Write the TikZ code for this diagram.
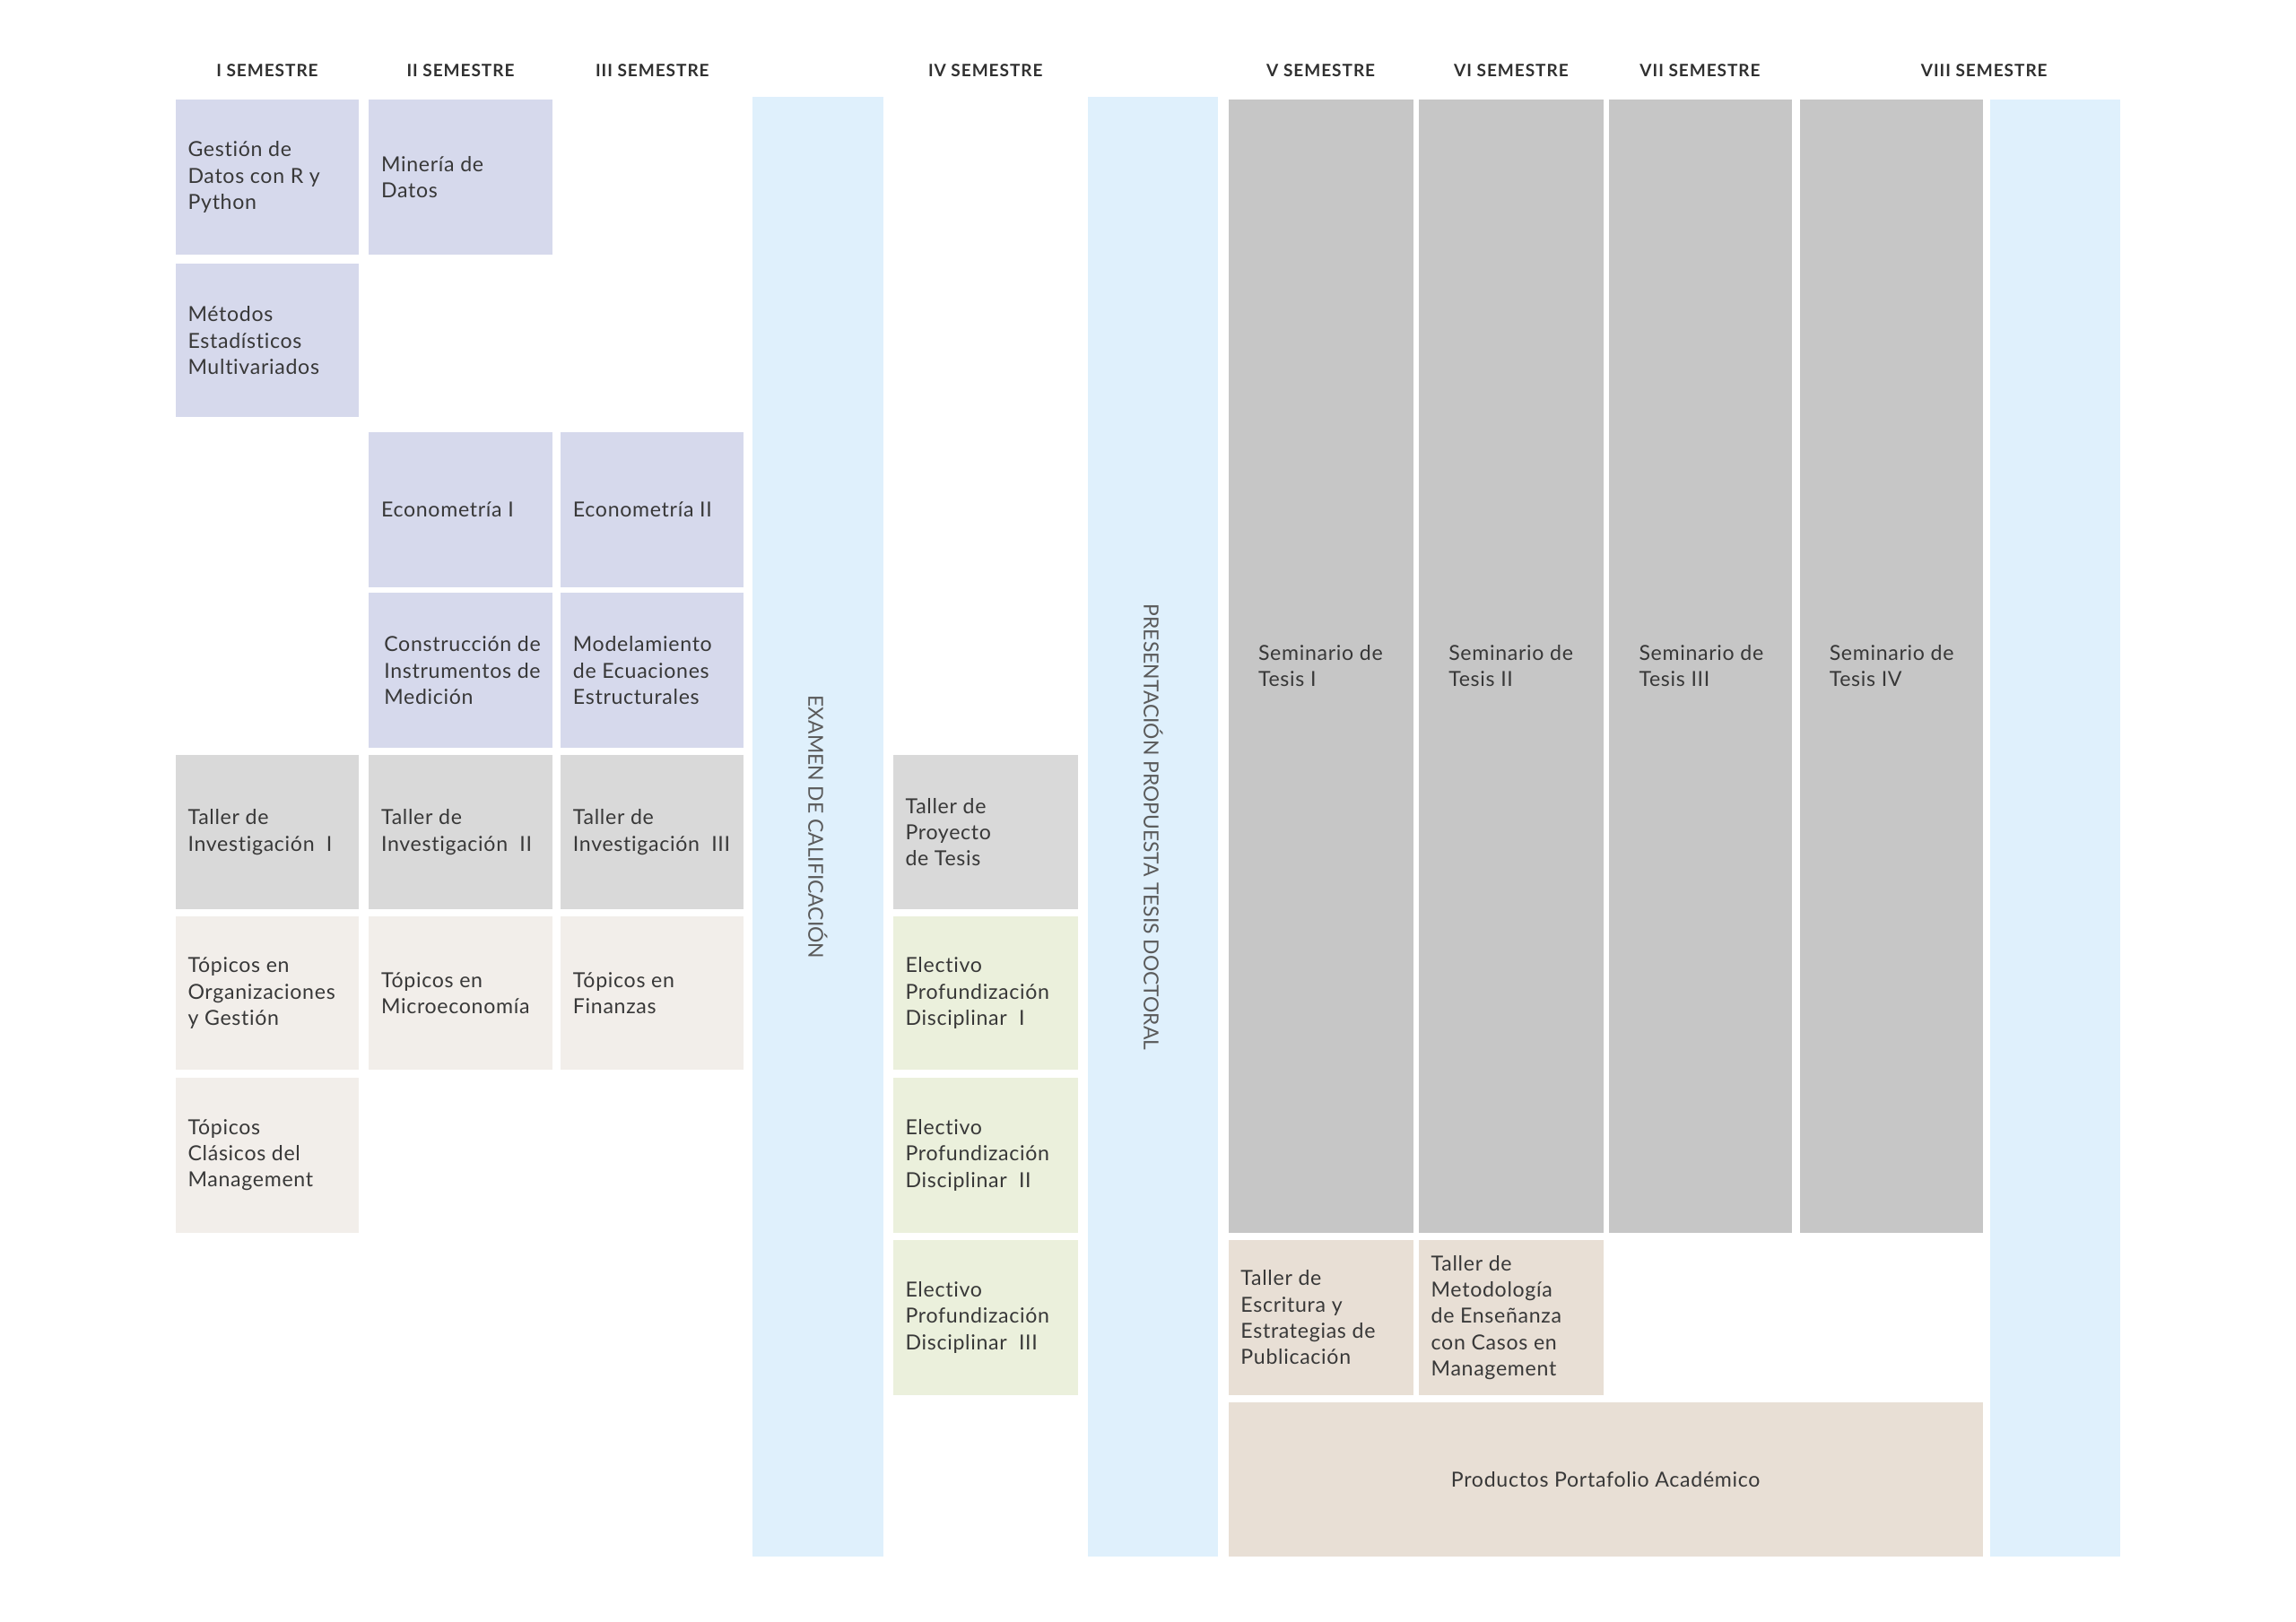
\documentclass[tikz,border=0pt]{standalone}
\usepackage{fontspec}
\setmainfont{Lato}
\newfontfamily\boxfont{Lato}[LetterSpace=3, Ligatures=NoCommon]
\newfontfamily\headfont{Lato}[LetterSpace=5]
\usepackage{xcolor}
\usetikzlibrary{positioning}

\definecolor{lavender}{HTML}{D6D9EC}
\definecolor{tallergray}{HTML}{D9D9D9}
\definecolor{topicbeige}{HTML}{F2EEEA}
\definecolor{electgreen}{HTML}{EBF0DC}
\definecolor{semgray}{HTML}{C6C6C6}
\definecolor{tanbox}{HTML}{E8DFD5}
\definecolor{bandblue}{HTML}{DFF0FC}
\definecolor{inkgray}{HTML}{383838}
\definecolor{headgray}{HTML}{303030}
\definecolor{bandink}{HTML}{5A5A5A}

\tikzset{
  coursetext/.style={anchor=west, inner sep=0pt, align=left, text=inkgray,
    font=\boxfont\fontsize{8.5}{10.8}\selectfont},
  semhead/.style={inner sep=0pt, text=headgray,
    font=\headfont\bfseries\fontsize{7}{8}\selectfont},
  bandtext/.style={rotate=-90, inner sep=0pt, text=bandink,
    font=\fontsize{8.4}{10}\selectfont}
}

\begin{document}
\begin{tikzpicture}[x=0.6pt, y=-0.6pt]

\useasboundingbox (0,0) rectangle (1568,1108);

% === HEADERS ===
\node[semhead] (hI) at (182.5,48) {I SEMESTRE};
\node[semhead] (hII) at (314.5,48) {II SEMESTRE};
\node[semhead] (hIII) at (445.5,48) {III SEMESTRE};
\node[semhead] (hIV) at (673,48) {IV SEMESTRE};
\node[semhead] (hV) at (902,48) {V SEMESTRE};
\node[semhead] (hVI) at (1032,48) {VI SEMESTRE};
\node[semhead] (hVII) at (1161,48) {VII SEMESTRE};
\node[semhead] (hVIII) at (1355,48) {VIII SEMESTRE};

% === BANDS ===
\fill[bandblue] (514,66) rectangle (603,1063);
\node[bandtext] (examen) at (558.5,565) {EXAMEN DE CALIFICACIÓN};
\fill[bandblue] (743,66) rectangle (832,1063);
\node[bandtext] (propuesta) at (787.5,565) {PRESENTACIÓN PROPUESTA TESIS DOCTORAL};
\fill[bandblue] (1359,68) rectangle (1448,1063);

% === I SEMESTRE ===
\fill[lavender] (120,68) rectangle ++(125,106);
\node[coursetext] (gestion) at (128,121) {Gestión de\\Datos con R y\\Python};
\fill[lavender] (120,180) rectangle ++(125,105);
\node[coursetext] (metodos) at (128,232.5) {Métodos\\Estadísticos\\Multivariados};
\fill[tallergray] (120,516) rectangle ++(125,105);
\node[coursetext] (tallerI) at (128,568.5) {Taller de\\Investigación~~I};
\fill[topicbeige] (120,626) rectangle ++(125,105);
\node[coursetext] (topOrg) at (128,678.5) {Tópicos en\\Organizaciones\\y Gestión};
\fill[topicbeige] (120,736) rectangle ++(125,106);
\node[coursetext] (topClasicos) at (128,789) {Tópicos\\Clásicos del\\Management};

% === II SEMESTRE ===
\fill[lavender] (252,68) rectangle ++(125,106);
\node[coursetext] (mineria) at (260,121) {Minería de\\Datos};
\fill[lavender] (252,295) rectangle ++(125,106);
\node[coursetext] (econI) at (260,348) {Econometría I};
\fill[lavender] (252,405) rectangle ++(125,106);
\node[coursetext] (construccion) at (262,458) {Construcción de\\Instrumentos de\\Medición};
\fill[tallergray] (252,516) rectangle ++(125,105);
\node[coursetext] (tallerII) at (260,568.5) {Taller de\\Investigación~~II};
\fill[topicbeige] (252,626) rectangle ++(125,105);
\node[coursetext] (topMicro) at (260,678.5) {Tópicos en\\Microeconomía};

% === III SEMESTRE ===
\fill[lavender] (383,295) rectangle ++(125,106);
\node[coursetext] (econII) at (391,348) {Econometría II};
\fill[lavender] (383,405) rectangle ++(125,106);
\node[coursetext] (modelamiento) at (391,458) {Modelamiento\\de Ecuaciones\\Estructurales};
\fill[tallergray] (383,516) rectangle ++(125,105);
\node[coursetext] (tallerIII) at (391,568.5) {Taller de\\Investigación~~III};
\fill[topicbeige] (383,626) rectangle ++(125,105);
\node[coursetext] (topFin) at (391,678.5) {Tópicos en\\Finanzas};

% === IV SEMESTRE ===
\fill[tallergray] (610,516) rectangle ++(126,105);
\node[coursetext] (proyecto) at (618,568.5) {Taller de\\Proyecto\\de Tesis};
\fill[electgreen] (610,626) rectangle ++(126,105);
\node[coursetext] (electI) at (618,678.5) {Electivo\\Profundización\\Disciplinar~~I};
\fill[electgreen] (610,736) rectangle ++(126,106);
\node[coursetext] (electII) at (618,789) {Electivo\\Profundización\\Disciplinar~~II};
\fill[electgreen] (610,847) rectangle ++(126,106);
\node[coursetext] (electIII) at (618,900) {Electivo\\Profundización\\Disciplinar~~III};

% === V - VIII SEMESTRE: seminarios ===
\fill[semgray] (839,68) rectangle ++(126,774);
\node[coursetext] (semI) at (859,455) {Seminario de\\Tesis I};
\fill[semgray] (969,68) rectangle ++(126,774);
\node[coursetext] (semII) at (989,455) {Seminario de\\Tesis II};
\fill[semgray] (1099,68) rectangle ++(125,774);
\node[coursetext] (semIII) at (1119,455) {Seminario de\\Tesis III};
\fill[semgray] (1229,68) rectangle ++(125,774);
\node[coursetext] (semIV) at (1249,455) {Seminario de\\Tesis IV};

% === talleres y portafolio ===
\fill[tanbox] (839,847) rectangle ++(126,106);
\node[coursetext] (escritura) at (847,900) {Taller de\\Escritura y\\Estrategias de\\Publicación};
\fill[tanbox] (969,847) rectangle ++(126,106);
\node[coursetext] (metodologia) at (977,900) {Taller de\\Metodología\\de Enseñanza\\con Casos en\\Management};
\fill[tanbox] (839,958) rectangle (1354,1063);
\node[coursetext, anchor=center] (portafolio) at (1096.5,1010.5) {Productos Portafolio Académico};

\end{tikzpicture}
\end{document}
